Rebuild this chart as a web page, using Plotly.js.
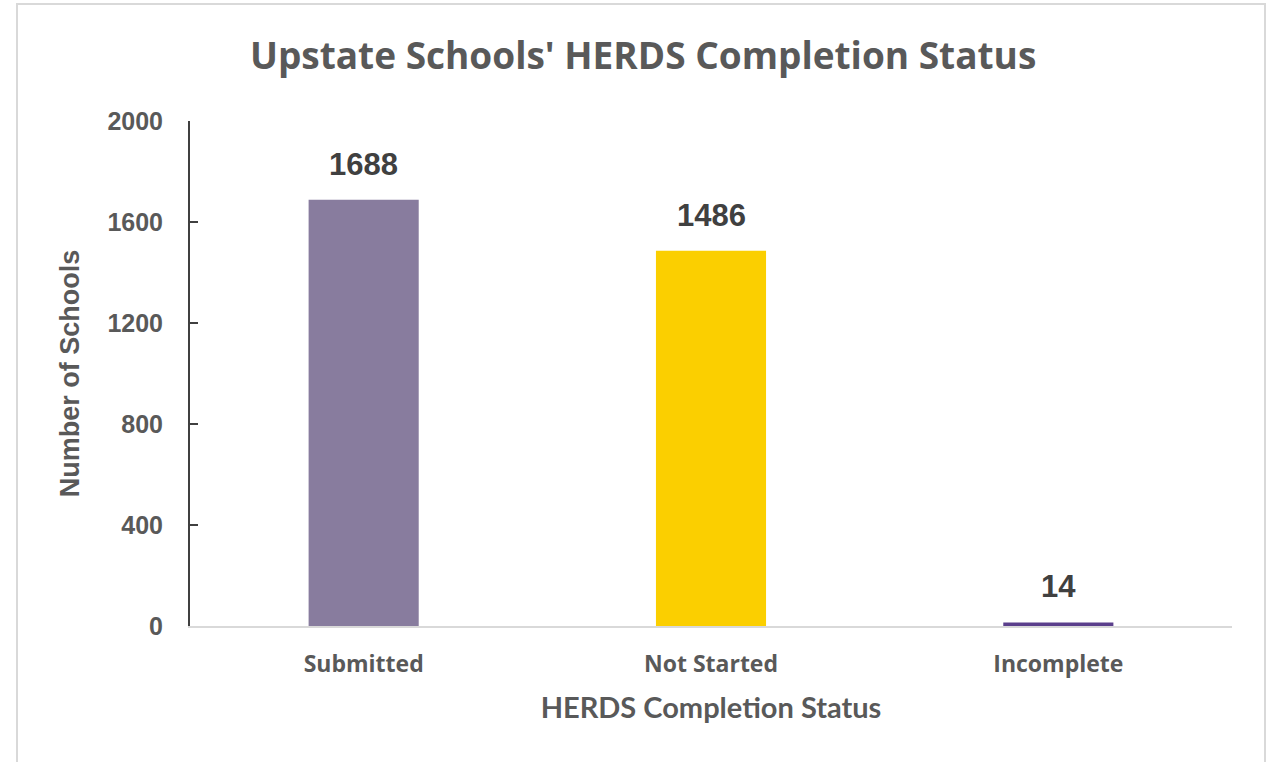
<!DOCTYPE html>
<html>
<head>
<meta charset="utf-8">
<script src="https://cdn.plot.ly/plotly-3.0.1.min.js"></script>
<style>
  html, body { margin: 0; padding: 0; background: #ffffff; }
  #chart { width: 1276px; height: 762px; position: relative; }
  #frame { position: absolute; left: 16px; top: 3px; width: 1250px; height: 780px;
           border: 2px solid #d9d9d9; pointer-events: none; box-sizing: border-box; }
</style>
</head>
<body>
<div id="chart"></div>
<div id="frame"></div>
<script>
const categories = ["Submitted", "Not Started", "Incomplete"];
const counts = [1688, 1486, 14];
const barColors = ["#887c9e", "#fbcf00", "#5b3f8c"];
const yTicks = [0, 400, 800, 1200, 1600, 2000];

const trace = {
  type: "bar",
  x: categories,
  y: counts,
  marker: { color: barColors },
  hoverinfo: "x+y"
};

const annotations = categories.map((c, i) => ({
  x: c, y: counts[i], xref: "x", yref: "y",
  text: String(counts[i]), showarrow: false,
  yanchor: "bottom", yshift: 16,
  font: { family: "Liberation Sans, Arial, sans-serif", size: 31, color: "#404040", weight: "bold" }
}));

const layout = {
  width: 1276, height: 762,
  margin: { l: 190, r: 44, t: 121, b: 136 },
  paper_bgcolor: "#ffffff",
  plot_bgcolor: "#ffffff",
  bargap: 0.683,
  showlegend: false,
  title: {
    text: "<b>Upstate Schools' HERDS Completion Status</b>",
    x: 0.504, xanchor: "center", y: 0.927, yanchor: "middle",
    font: { family: "Open Sans, sans-serif", size: 37, color: "#595959" }
  },
  xaxis: {
    type: "category",
    showline: true, linecolor: "#d9d9d9", linewidth: 2,
    showgrid: false, zeroline: false, ticks: "",
    ticklabelstandoff: 16,
    tickfont: { family: "Open Sans, sans-serif", size: 23, color: "#595959", weight: "bold" },
    title: { text: "<b>HERDS Completion Status</b>", standoff: 20,
             font: { family: "Lato, sans-serif", size: 29, color: "#595959" } }
  },
  yaxis: {
    range: [0, 2000],
    tickvals: yTicks, ticktext: yTicks.map(String),
    showline: true, linecolor: "#404040", linewidth: 2,
    ticks: "inside", ticklen: 8, tickwidth: 2, tickcolor: "#404040",
    showgrid: false, zeroline: false,
    ticklabelstandoff: 20,
    tickfont: { family: "Liberation Sans, Arial, sans-serif", size: 25, color: "#595959", weight: "bold" },
    title: { text: "<b>Number of Schools</b>", standoff: 20,
             font: { family: "Liberation Sans, Arial, sans-serif", size: 27, color: "#595959" } }
  },
  annotations: annotations
};

Plotly.newPlot("chart", [trace], layout, { displayModeBar: false, staticPlot: true });
</script>
</body>
</html>
